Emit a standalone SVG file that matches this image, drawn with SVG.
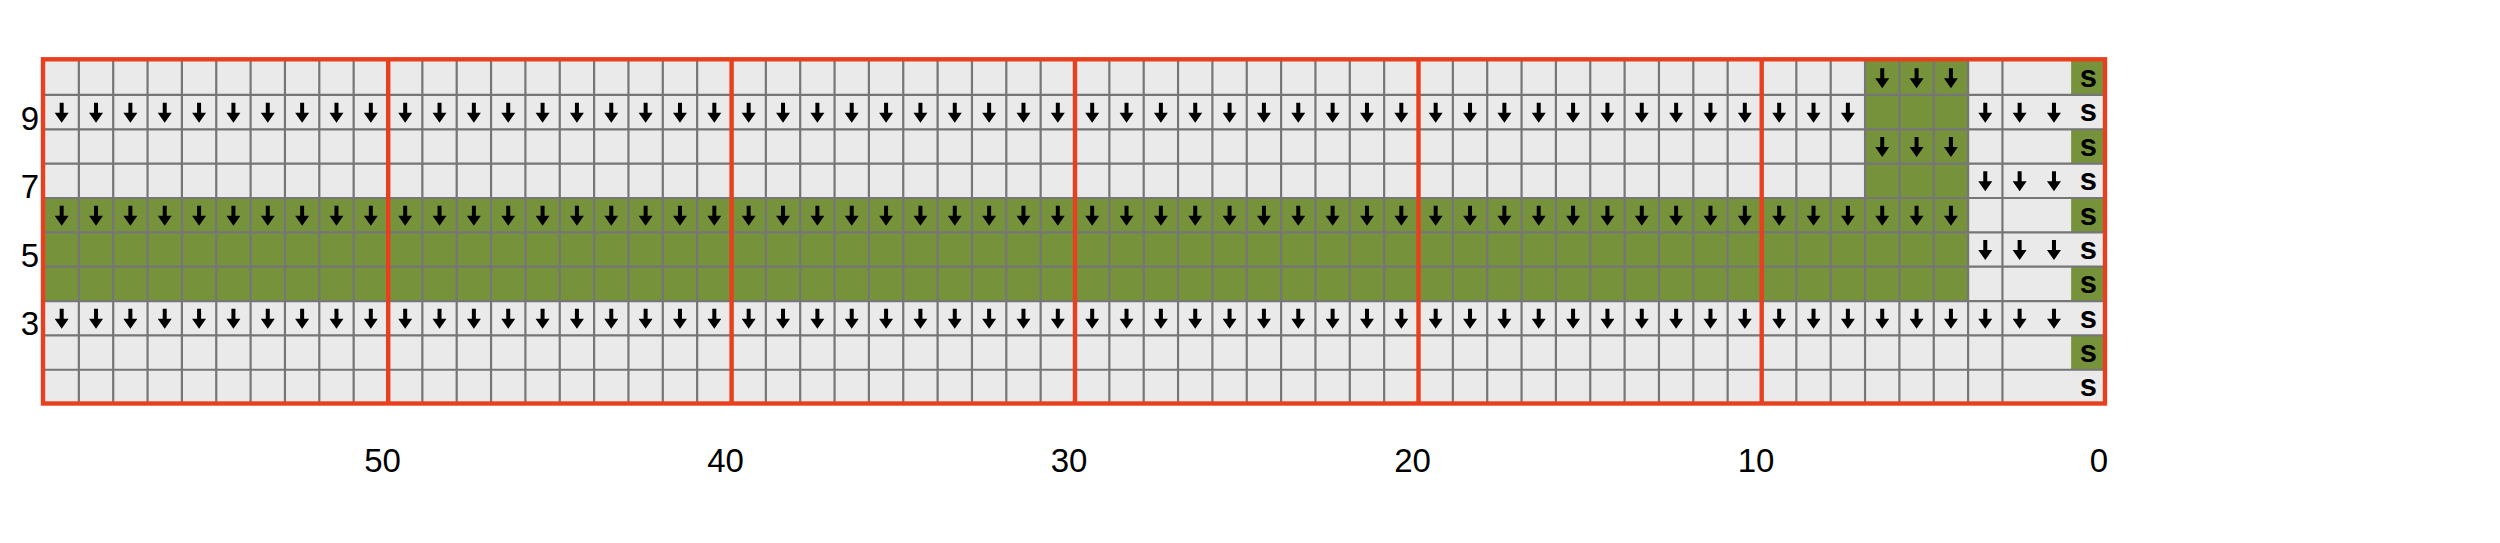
<svg xmlns="http://www.w3.org/2000/svg" xmlns:xlink="http://www.w3.org/1999/xlink" width="2500" height="543" viewBox="0 0 2500 543">
<style>
.bg{fill:#ffffff}
.cell{fill:#eaeaea}
.grn{fill:#76933c}
.grid{fill:none;stroke:#767676;stroke-width:2.2}
.red{fill:none;stroke:#e8401e;stroke-width:4.4}
.lbl{font-family:"Liberation Sans",Arial,sans-serif;font-size:33px;fill:#000}
.s{font-family:"Liberation Sans",Arial,sans-serif;font-size:31px;font-weight:bold;fill:#000;text-anchor:middle}
</style>
<defs>
<path id="ar" d="M-2,-9.5 H2 V0.5 H7 L0,10.5 L-7,0.5 H-2 Z" fill="#000"/>
<g id="a3"><use href="#ar"/><use href="#ar" x="34.35"/><use href="#ar" x="68.7"/></g>
<g id="a10"><use href="#a3"/><use href="#a3" x="103.05"/><use href="#a3" x="206.1"/><use href="#ar" x="309.15"/></g>
</defs>
<rect class="bg" x="0" y="0" width="2500" height="543"/>
<g id="cells">
<rect class="cell" x="44.5" y="60.6" width="2061" height="343.5"/>
<rect class="grn" x="1865.05" y="60.6" width="103.05" height="137.4"/>
<rect class="grn" x="44.5" y="198" width="1923.6" height="103.05"/>
<rect class="grn" x="2071.15" y="60.6" width="34.35" height="34.35"/>
<rect class="grn" x="2071.15" y="129.3" width="34.35" height="34.35"/>
<rect class="grn" x="2071.15" y="198" width="34.35" height="34.35"/>
<rect class="grn" x="2071.15" y="266.7" width="34.35" height="34.35"/>
<rect class="grn" x="2071.15" y="335.4" width="34.35" height="34.35"/>
</g>
<g id="gridlines">
<path class="grid" d="M78.85,60.6v343.5m34.35,-343.5v343.5m34.35,-343.5v343.5m34.35,-343.5v343.5m34.35,-343.5v343.5m34.35,-343.5v343.5m34.35,-343.5v343.5m34.35,-343.5v343.5m34.35,-343.5v343.5m34.35,-343.5v343.5m34.35,-343.5v343.5m34.35,-343.5v343.5m34.35,-343.5v343.5m34.35,-343.5v343.5m34.35,-343.5v343.5m34.35,-343.5v343.5m34.35,-343.5v343.5m34.35,-343.5v343.5m34.35,-343.5v343.5m34.35,-343.5v343.5m34.35,-343.5v343.5m34.35,-343.5v343.5m34.35,-343.5v343.5m34.35,-343.5v343.5m34.35,-343.5v343.5m34.35,-343.5v343.5m34.35,-343.5v343.5m34.35,-343.5v343.5m34.35,-343.5v343.5m34.35,-343.5v343.5m34.35,-343.5v343.5m34.35,-343.5v343.5m34.35,-343.5v343.5m34.35,-343.5v343.5m34.35,-343.5v343.5m34.35,-343.5v343.5m34.35,-343.5v343.5m34.35,-343.5v343.5m34.35,-343.5v343.5m34.35,-343.5v343.5m34.35,-343.5v343.5m34.35,-343.5v343.5m34.35,-343.5v343.5m34.35,-343.5v343.5m34.35,-343.5v343.5m34.35,-343.5v343.5m34.35,-343.5v343.5m34.35,-343.5v343.5m34.35,-343.5v343.5m34.35,-343.5v343.5m34.35,-343.5v343.5m34.35,-343.5v343.5m34.35,-343.5v343.5m34.35,-343.5v343.5m34.35,-343.5v343.5m34.35,-343.5v343.5m34.35,-343.5v343.5M44.5,94.95h2061m-2061,34.35h2061m-2061,34.35h2061m-2061,34.35h2061m-2061,34.35h2061m-2061,34.35h2061m-2061,34.35h2061m-2061,34.35h2061m-2061,34.35h2061"/>
<path class="red" d="M388.2,59.3V403.5M731.6,59.3V403.5M1075,59.3V403.5M1418.5,59.3V403.5M1761.7,59.3V403.5"/>
<rect class="red" x="43" y="59.3" width="2062" height="344.2"/>
</g>
<g id="arrows">
<use href="#a3" x="1882.225" y="77.775"/>
<use href="#a10" x="61.675" y="112.125"/><use href="#a10" x="405.175" y="112.125"/><use href="#a10" x="748.675" y="112.125"/><use href="#a10" x="1092.175" y="112.125"/><use href="#a10" x="1435.675" y="112.125"/><use href="#a3" x="1779.175" y="112.125"/><use href="#a3" x="1985.275" y="112.125"/>
<use href="#a3" x="1882.225" y="146.475"/>
<use href="#a3" x="1985.275" y="180.825"/>
<use href="#a10" x="61.675" y="215.175"/><use href="#a10" x="405.175" y="215.175"/><use href="#a10" x="748.675" y="215.175"/><use href="#a10" x="1092.175" y="215.175"/><use href="#a10" x="1435.675" y="215.175"/><use href="#a3" x="1779.175" y="215.175"/><use href="#a3" x="1882.225" y="215.175"/>
<use href="#a3" x="1985.275" y="249.525"/>
<use href="#a10" x="61.675" y="318.225"/><use href="#a10" x="405.175" y="318.225"/><use href="#a10" x="748.675" y="318.225"/><use href="#a10" x="1092.175" y="318.225"/><use href="#a10" x="1435.675" y="318.225"/><use href="#a3" x="1779.175" y="318.225"/><use href="#a3" x="1882.225" y="318.225"/><use href="#a3" x="1985.275" y="318.225"/>
</g>
<g id="s-column">
<text class="s" x="2088.3" y="87.1">s</text>
<text class="s" x="2088.3" y="121.45">s</text>
<text class="s" x="2088.3" y="155.8">s</text>
<text class="s" x="2088.3" y="190.15">s</text>
<text class="s" x="2088.3" y="224.5">s</text>
<text class="s" x="2088.3" y="258.85">s</text>
<text class="s" x="2088.3" y="293.2">s</text>
<text class="s" x="2088.3" y="327.55">s</text>
<text class="s" x="2088.3" y="361.9">s</text>
<text class="s" x="2088.3" y="396.25">s</text>
</g>
<g id="row-labels" class="lbl" text-anchor="end">
<text x="39" y="129.5">9</text>
<text x="39" y="198.3">7</text>
<text x="39" y="266.7">5</text>
<text x="39" y="335.4">3</text>
</g>
<g id="col-labels" class="lbl" text-anchor="middle">
<text x="382.5" y="471.5">50</text>
<text x="725.5" y="471.5">40</text>
<text x="1069" y="471.5">30</text>
<text x="1412.5" y="471.5">20</text>
<text x="1756" y="471.5">10</text>
<text x="2099" y="471.5">0</text>
</g>
</svg>
